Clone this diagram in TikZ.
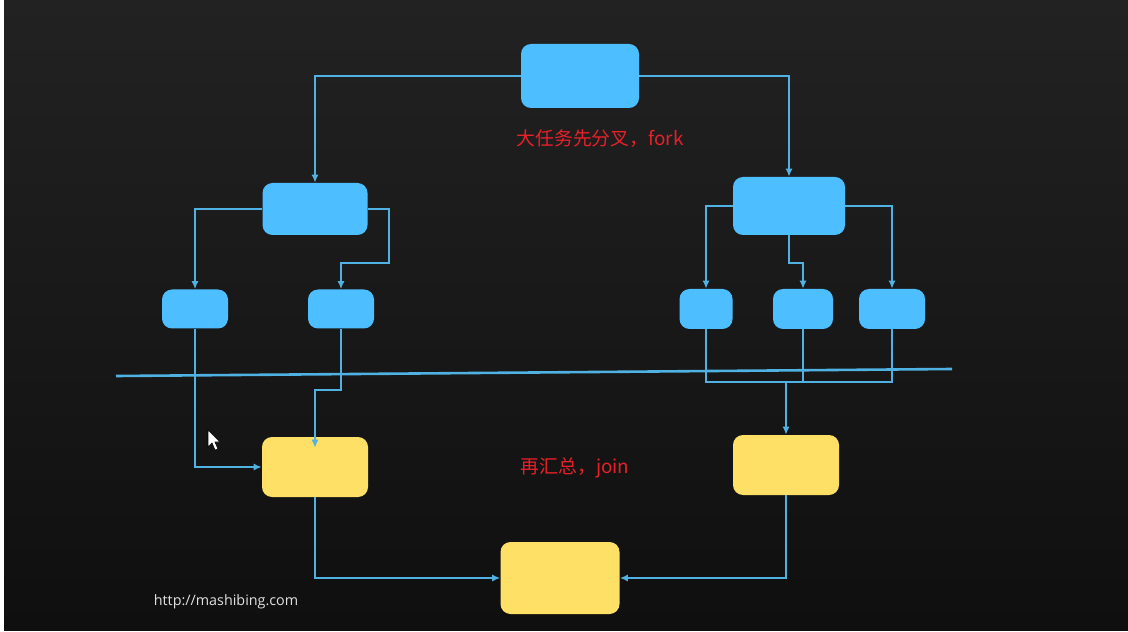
\documentclass[tikz,border=0pt]{standalone}
\usepackage{fontspec}
\usepackage{tikz}
\usetikzlibrary{arrows.meta}
\newfontfamily\cjk{Noto Sans CJK SC}
\newfontfamily\urlfont{Open Sans}
\newcommand{\pxu}{0.25mm}

\definecolor{board}{HTML}{0F0F0F}
\definecolor{boardtop}{HTML}{222222}
\definecolor{boxblue}{HTML}{4DBEFF}
\definecolor{lineblue}{HTML}{4FB2E2}
\definecolor{boxyellow}{HTML}{FFE066}
\definecolor{notered}{HTML}{E8202A}

\tikzset{
  task/.style={fill=boxblue, rounded corners=10*\pxu, inner sep=0pt},
  result/.style={fill=boxyellow, rounded corners=10*\pxu, inner sep=0pt},
  link/.style={draw=lineblue, line width=0.65mm},
  linkarrow/.style={link, -{Latex[length=8*\pxu,width=7*\pxu]}},
  note/.style={text=notered, font=\cjk\fontsize{13.4pt}{15pt}\selectfont}
}

\begin{document}
\begin{tikzpicture}[x=\pxu, y=-\pxu]

\useasboundingbox (0,0) rectangle (1128,632);
%% the board
\fill[white] (0,0) rectangle (1128,632);
\shade[top color=boardtop, bottom color=board] (4,0) rectangle (1128,630);

%% fork side
\node[task, minimum width=118*\pxu, minimum height=64*\pxu] (top) at (580,76) {};
\node[task, minimum width=105*\pxu, minimum height=52*\pxu] (left) at (315,209) {};
\node[task, minimum width=112*\pxu, minimum height=58*\pxu] (right) at (789,206) {};

\node[task, minimum width=66*\pxu, minimum height=39*\pxu] (ll) at (195,309) {};
\node[task, minimum width=66*\pxu, minimum height=39*\pxu] (lr) at (341,309) {};
\node[task, minimum width=53*\pxu, minimum height=40*\pxu] (r1) at (706,309) {};
\node[task, minimum width=60*\pxu, minimum height=40*\pxu] (r2) at (803,309) {};
\node[task, minimum width=66*\pxu, minimum height=40*\pxu] (r3) at (892,309) {};

%% join side
\node[result, minimum width=106*\pxu, minimum height=60*\pxu] (yl) at (315,467) {};
\node[result, minimum width=106*\pxu, minimum height=60*\pxu] (yr) at (786,465) {};
\node[result, minimum width=119*\pxu, minimum height=72*\pxu] (yb) at (560,578) {};

%% the texts
\node[note] (forktext) at (600,139) {大任务先分叉，fork};
\node[note] (jointext) at (575,468) {再汇总，join};
\node[text=white!88!black, font=\urlfont\fontsize{10.2pt}{12pt}\selectfont] (site) at (226,602) {http://mashibing.com};

%% bend points
\coordinate (kl) at (389,263);
\coordinate (klb) at (315,390);
\coordinate (kr) at (803,263);
\coordinate (rjoin) at (786,382);
\coordinate (sepL) at (116,376);
\coordinate (sepR) at (952,369);

%% fork arrows
\draw[linkarrow] (top.west) -| (left.north);
\draw[linkarrow] (top.east) -| (right.north);
\draw[linkarrow] (left.west) -| (ll.north);
\draw[linkarrow] (left.east) -| (kl) -| (lr.north);
\draw[linkarrow] (right.west) -| (r1.north);
\draw[linkarrow] (right.south) |- (kr) -- (r2.north);
\draw[linkarrow] (right.east) -| (r3.north);

%% the line between fork and join
\draw[link] (sepL) -- (sepR);

%% join arrows
\draw[linkarrow] (ll.south) |- (yl.west);
\draw[linkarrow] (lr.south) |- (klb) -- ([yshift=-2.75mm]yl.north);
\draw[link] (r1.south) |- (r3.south |- rjoin) -- (r3.south);
\draw[link] (r2.south) -- (r2.south |- rjoin);
\draw[linkarrow] (rjoin) -- (yr.north);
\draw[linkarrow] (yl.south) |- (yb.west);
\draw[linkarrow] (yr.south) |- (yb.east);

%% mouse pointer
\draw[fill=white, draw=black, line width=0.15mm, line join=round]
  (208,430) -- (208,447) -- (212,443) -- (215,450) -- (218,449) -- (215,442) -- (220,442) -- cycle;

\end{tikzpicture}
\end{document}
